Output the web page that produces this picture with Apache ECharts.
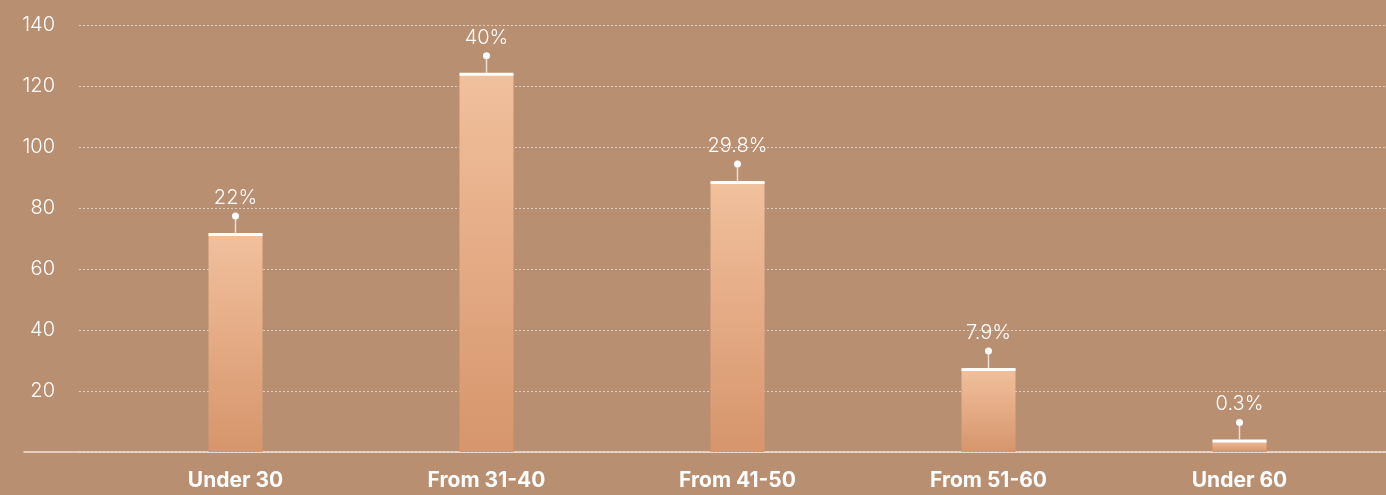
<!DOCTYPE html>
<html>
<head>
<meta charset="utf-8">
<script src="https://cdn.jsdelivr.net/npm/echarts@6/dist/echarts.min.js"></script>
<style>
  html, body { margin: 0; padding: 0; background: #b98f71; }
  #chart { width: 1386px; height: 495px; }
</style>
</head>
<body>
<div id="chart"></div>
<script>
// data
const categories = ['Under 30', 'From 31-40', 'From 41-50', 'From 51-60', 'Under 60'];
const values = [71.5, 124, 88.5, 27.2, 3.8];
const percentLabels = ['22%', '40%', '29.8%', '7.9%', '0.3%'];
const yTicks = [20, 40, 60, 80, 100, 120, 140];

const yMax = 140;
const fontFam = 'Inter, "Noto Sans", sans-serif';

let myChart = echarts.init(document.getElementById('chart'));

myChart.setOption({
    backgroundColor: '#b98f71',
    animation: false,
    grid: [
        // grid for y labels + split lines
        { left: 79, right: 0, top: 25, bottom: 43 },
        // grid for the long baseline
        { left: 24, right: 0, top: 25, bottom: 43 },
        // grid for bars
        { left: 110, right: 21, top: 25, bottom: 43 }
    ],
    xAxis: [
        { gridIndex: 0, type: 'value', show: false },
        {
            gridIndex: 1, type: 'value', min: 0, max: 1,
            axisLine: { show: true, lineStyle: { color: '#f3e4da', width: 1.5 } },
            axisTick: { show: false }, axisLabel: { show: false }, splitLine: { show: false }
        },
        {
            gridIndex: 2, type: 'category', data: categories,
            axisLine: { show: false }, axisTick: { show: false },
            axisLabel: {
                color: '#ffffff', fontSize: 21, fontWeight: 'bold', fontFamily: fontFam, margin: 18
            }
        }
    ],
    yAxis: [
        {
            gridIndex: 0, type: 'value', min: 0, max: yMax, interval: 20,
            axisLine: { show: false }, axisTick: { show: false },
            axisLabel: {
                color: '#ffffff', fontSize: 20, fontWeight: 300, fontFamily: fontFam, margin: 24,
                formatter: v => (yTicks.indexOf(v) >= 0 ? String(v) : '')
            },
            splitLine: {
                lineStyle: { color: 'rgba(255,255,255,0.55)', type: [2, 2], width: 1 }
            }
        },
        { gridIndex: 1, type: 'value', min: 0, max: yMax, show: false },
        { gridIndex: 2, type: 'value', min: 0, max: yMax, show: false }
    ],
    series: [
        {
            type: 'bar',
            xAxisIndex: 2, yAxisIndex: 2,
            data: values,
            barWidth: 54,
            itemStyle: {
                color: new echarts.graphic.LinearGradient(0, 0, 0, 1, [
                    { offset: 0, color: '#f1c09d' },
                    { offset: 1, color: '#d6956c' }
                ])
            }
        },
        {
            // white cap, pin and percent label on each bar
            type: 'custom',
            xAxisIndex: 2, yAxisIndex: 2,
            data: values.map((v, i) => [i, v]),
            z: 5,
            renderItem: function (params, api) {
                let p = api.coord([api.value(0), api.value(1)]);
                let i = params.dataIndex;
                return {
                    type: 'group',
                    children: [
                        {
                            type: 'rect',
                            shape: { x: p[0] - 27, y: p[1] - 1, width: 54, height: 3 },
                            style: { fill: '#ffffff' }
                        },
                        {
                            type: 'line',
                            shape: { x1: p[0], y1: p[1] - 1, x2: p[0], y2: p[1] - 17 },
                            style: { stroke: 'rgba(255,255,255,0.7)', lineWidth: 1.5 }
                        },
                        {
                            type: 'circle',
                            shape: { cx: p[0], cy: p[1] - 18, r: 3.5 },
                            style: { fill: '#ffffff' }
                        },
                        {
                            type: 'text',
                            x: p[0], y: p[1] - 36,
                            style: {
                                text: percentLabels[i],
                                fill: '#ffffff',
                                font: '300 20px ' + fontFam,
                                align: 'center',
                                verticalAlign: 'middle'
                            }
                        }
                    ]
                };
            }
        }
    ]
});
</script>
</body>
</html>
